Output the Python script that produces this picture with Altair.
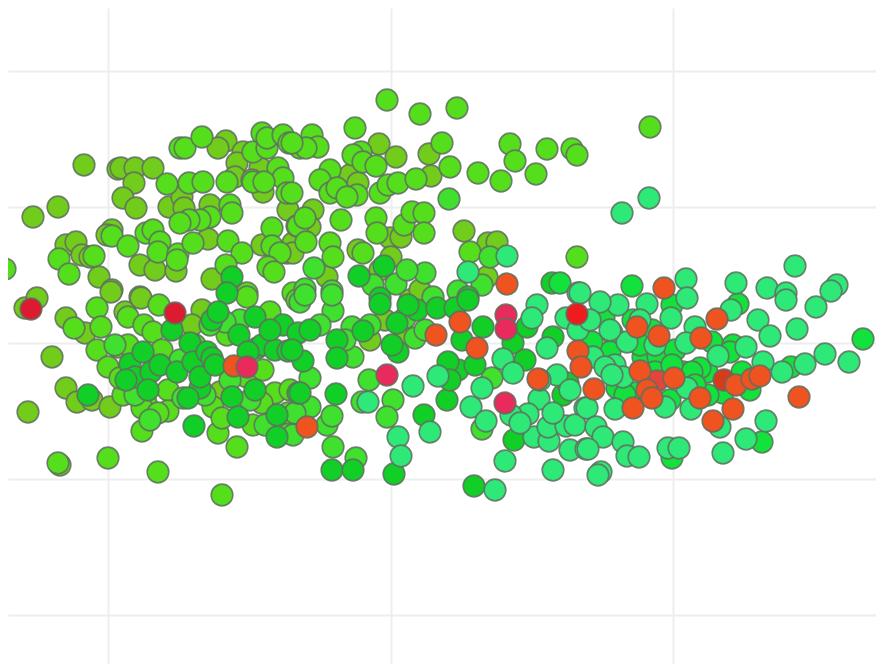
import altair as alt
import pandas as pd

olive = [(84,165),(58,207),(33,217),(118,169),(121,168),(135,168),(153,168),(134,183),(123,198),(136,208),
(66,245),(76,242),(82,255),(90,257),(99,277),(112,290),(140,297),(112,230),(107,235),(140,265),(155,270),(176,271),
(169,207),(182,197),(184,208),(210,205),(208,239),(212,279),(226,141),(218,148),(243,152),(237,163),(235,177),
(260,168),(263,192),(252,180),(288,210),(262,245),(287,253),(293,243),
(25,308),(37,298),(66,318),(52,357),(66,388),(77,402),(92,400),(110,407),(28,412),(60,465),(125,312),(141,298),
(111,292),(202,310),(85,333),(118,347),(220,392),(192,325),
(379,144),(396,157),(350,175),(358,183),(429,154),(431,176),(313,210),(310,227),(390,238),(401,237),(391,257),
(464,231),(488,243),(497,242),(487,277),(327,277),(380,270),(293,253),(358,250),(410,300),(385,320),(370,340),(405,335),(420,290)]
lime = [(5,269),(59,259),(69,274),(94,256),(112,236),(128,246),(146,233),(153,230),(160,242),(158,252),(178,254),(177,260),
(167,184),(180,148),(185,148),(202,137),(189,183),(203,182),(227,182),(253,152),(267,148),(262,133),(267,138),(283,135),
(289,143),(300,148),(278,168),(283,178),(253,182),(264,182),(287,193),(230,205),(232,213),(210,217),(200,220),(189,220),
(180,223),(193,243),(228,241),(242,253),(226,265),(272,228),(297,226),(272,246),(280,253),(268,267),(274,272),(247,293),(293,293),
(97,308),(74,328),(101,327),(97,350),(108,367),(128,317),(144,325),(159,305),(128,345),(153,332),(162,350),(123,395),(120,378),
(58,463),(108,458),(158,472),(222,495),(142,431),(237,447),(218,433),(253,425),(168,390),(168,411),(146,403),(142,408),(158,413),
(213,407),(222,418),(275,393),(262,403),(290,433),(288,413),(290,390),(247,377),(263,370),(227,335),(247,297),(297,300),(270,312),
(387,100),(420,114),(457,108),(355,128),(312,135),(318,147),(306,148),(292,143),(361,152),(353,155),(363,162),(376,166),(442,143),
(450,167),(330,170),(320,180),(330,193),(337,188),(357,195),(347,197),(380,193),(388,185),(398,183),(416,179),(478,173),(501,181),
(510,144),(515,161),(547,149),(572,149),(577,155),(536,174),(341,220),(376,218),(377,233),(404,225),(412,212),(424,213),(424,233),
(298,226),(306,242),(305,218),(330,243),(333,257),(363,253),(470,252),(577,257),(650,127),(292,193)]
bright = [(449,199),(314,268),(332,291),(305,289),(373,285),(396,284),(425,273),(407,270),(482,285),(458,291),(490,257),(433,297),
(300,302),(305,295),(333,311),(352,327),(370,325),(353,357),(415,338),(310,378),(310,407),(295,413),(327,425),(332,416),(333,447),
(356,458),(369,380),(362,402),(393,400),(387,417),(482,429),(492,378),(293,435),(332,295),
(240,320),(225,322),(210,325),(195,345),(180,360),(205,395),(183,398),(230,380),(250,400),(115,345),(135,395),(150,420),(265,425),(320,325),(345,340),(425,330),(405,318)]
dark = [(232,277),(227,293),(88,395),(130,364),(135,377),(126,380),(143,352),(151,372),(148,390),(160,365),(177,372),(172,330),
(190,343),(193,362),(200,388),(188,398),(194,426),(200,377),(207,352),(212,358),(215,365),(212,320),(218,312),(239,335),(255,317),
(257,348),(262,345),(248,352),(275,350),(288,351),(283,325),(270,330),(255,390),(232,397),(238,417),(277,415),(277,437),(298,393),
(298,333),(359,276),(384,266),(380,298),(468,297),(552,283),(310,330),(337,340),(337,358),(380,304),(417,310),(408,305),(437,308),
(455,308),(468,300),(397,323),(398,352),(392,345),(363,331),(303,361),(292,350),(300,393),(336,394),(332,470),(353,470),(394,474),
(424,415),(447,400),(474,486),(514,440),(458,370),(448,362),(475,365),(483,327),(462,340),(513,343),(527,327),(563,395),(450,380),
(525,360),(553,337),(568,383)]
medium = [(863,339),(632,286),(738,304),(604,317),(633,320),(612,333),(610,352),(592,342),(643,357),(667,352),(658,357),(683,372),
(707,372),(700,368),(712,342),(733,345),(730,352),(742,372),(750,390),(723,393),(708,395),(692,372),(791,367),(762,442),(672,458),
(672,305),(617,388),(652,330),(675,350),(635,393),(670,400),(560,283),(655,372),(672,365),(695,385),(640,345),(625,395)]
teal = [(468,272),(507,256),(537,305),(578,293),(413,386),(368,402),(398,437),(401,456),(430,432),(438,376),(471,407),(486,421),
(482,388),(503,359),(513,373),(532,318),(566,318),(578,330),(547,348),(557,375),(539,399),(528,414),(511,415),(534,437),(549,441),
(548,427),(566,426),(553,413),(505,461),(553,470),(570,450),(586,449),(495,490),(585,408),(575,425),(520,423),
(795,266),(736,283),(767,288),(786,293),(786,300),(837,285),(831,291),(816,307),(758,320),(770,336),(797,329),(731,310),(686,279),
(687,298),(647,304),(618,305),(600,302),(580,293),(671,318),(695,327),(686,343),(718,356),(746,347),(825,354),(849,362),(805,364),
(782,372),(763,362),(615,365),(627,342),(623,377),(593,357),(605,367),(687,388),(665,407),(691,409),(615,409),(587,408),(596,427),
(603,437),(623,442),(588,449),(627,456),(639,457),(668,448),(679,448),(723,453),(746,439),(766,421),(720,427),(601,472),(598,475),
(622,213),(649,198),(655,345),(612,375),(640,320),(590,320),(610,330),(570,390),(540,380)]
coral = [(657,381)]
deep_orange = [(724,380)]
orange = [(234,366),(507,284),(307,427),(436,335),(460,322),(477,348),(538,379),(578,351),(581,367),(594,389),
(664,288),(717,319),(637,327),(659,336),(701,338),(640,371),(674,378),(647,390),(652,398),(633,408),(700,398),(733,409),(713,421),
(736,385),(752,379),(760,376),(799,397)]
crimson = [(31,309),(175,313)]
pink = [(247,367),(387,375),(506,315),(506,329),(505,403)]
red = [(577,314)]

groups = ["olive","lime","bright","dark","medium","teal","coral","deep_orange","orange","pink","crimson","red"]
fills = ["#72cc1c","#55de1c","#3fe02e","#12cf28","#14e23c","#2ee878","#e4443a","#d83a1c","#ee5320","#e82a5c","#dc1a30","#ee1c1e"]
series = [olive,lime,bright,dark,medium,teal,coral,deep_orange,orange,pink,crimson,red]

rows = []
for g, pts in zip(groups, series):
    for a, b in pts:
        rows.append({"a": a, "b": b, "g": g})
df = pd.DataFrame(rows)

x_ticks = [108, 391, 673]
y_ticks = [71, 207, 343, 479, 615]

chart = alt.Chart(df).mark_circle(
    size=470, opacity=1, stroke="#5f6f5f", strokeWidth=1.6, strokeOpacity=0.85, clip=True
).encode(
    x=alt.X("a:Q", scale=alt.Scale(domain=[8, 876], nice=False, zero=False),
            axis=alt.Axis(values=x_ticks, labels=False, ticks=False, domain=False, title=None,
                          gridColor="#eeeeee", gridWidth=2)),
    y=alt.Y("b:Q", scale=alt.Scale(domain=[664, 8], nice=False, zero=False),
            axis=alt.Axis(values=y_ticks, labels=False, ticks=False, domain=False, title=None,
                          gridColor="#eeeeee", gridWidth=2)),
    color=alt.Color("g:N", scale=alt.Scale(domain=groups, range=fills), legend=None),
).properties(width=868, height=656, padding=0).configure_view(stroke=None)

chart.save("out.html", embed_options={"renderer": "svg", "actions": False})
